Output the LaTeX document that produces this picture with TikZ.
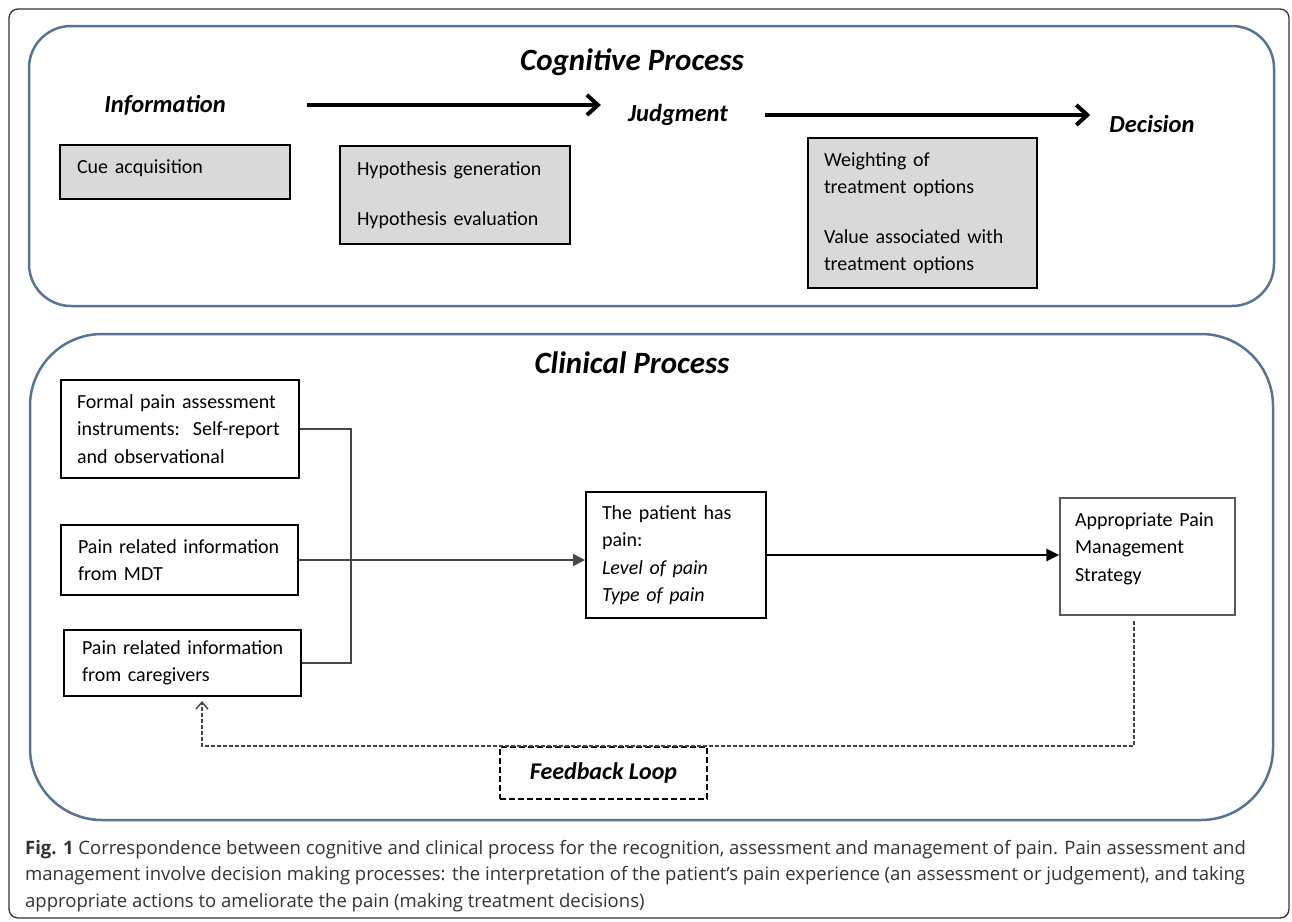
\documentclass[tikz,border=0pt]{standalone}
\usepackage{fontspec}
\setmainfont{Carlito}
\newfontfamily\capfont{Open Sans}
\usetikzlibrary{arrows.meta,calc}
\definecolor{panel}{RGB}{88,116,145}
\definecolor{boxgray}{RGB}{217,217,217}
\definecolor{captext}{RGB}{51,51,51}
\definecolor{linegray}{RGB}{70,70,70}
\begin{document}
\begin{tikzpicture}[x=1pt,y=-1pt,
  panelbox/.style={draw=panel, line width=2.5pt},
  heading/.style={font=\fontsize{31}{34}\selectfont\bfseries\itshape, inner sep=0pt},
  stage/.style={font=\fontsize{24.5}{28}\selectfont\bfseries\itshape, inner sep=0pt},
  basebox/.style={line width=2pt, align=left, inner ysep=0pt,
     font=\fontsize{20}{27.5}\selectfont, text=black},
  graybox/.style={basebox, draw=black, fill=boxgray},
  whitebox/.style={basebox, draw=black, fill=white},
  thinbox/.style={basebox, draw=black!65, line width=1.3pt, fill=white},
  fbbox/.style={draw=black, line width=2.3pt, dash pattern=on 6pt off 3pt,
     minimum width=207, minimum height=52, inner sep=0pt,
     font=\fontsize{24}{28}\selectfont\bfseries\itshape},
  bigarrow/.style={line width=4pt, -{Straight Barb[length=11pt,width=20pt,line width=4pt]}},
  bracket/.style={draw=linegray, line width=1.4pt},
  thinarrow/.style={draw=linegray, line width=1.6pt, -{Triangle[length=12pt,width=12pt]}},
  thickarrow/.style={draw=black, line width=2.6pt, -{Triangle[length=13pt,width=12pt]}},
  fbline/.style={draw=linegray, line width=1.4pt, dash pattern=on 4pt off 2pt,
     -{Straight Barb[length=7pt,width=12pt,line width=1.4pt]}}
]
\useasboundingbox (0,0) rectangle (1292,921);
\fill[white] (0,0) rectangle (1292,921);
% outer frame
\draw[draw=black!80, line width=1.3pt, rounded corners=9pt] (9,9) rectangle (1289,918);
% panels
\draw[panelbox, rounded corners=42pt] (29,26) rectangle (1274,306);
\draw[panelbox, rounded corners=72pt] (30,334) rectangle (1273,820);

% ---------- cognitive process ----------
\node[heading] (cog) at (632,62) {Cognitive Process};
\node[stage] (info) at (165,105) {Information};
\node[stage] (judg) at (678,115) {Judgment};
\node[stage] (deci) at (1152,124) {Decision};
\draw[bigarrow, shorten <=81pt, shorten >=27pt] (info.east) -- (info.east -| judg.west);
\draw[bigarrow, shorten <=37pt, shorten >=19pt] (judg.east) -- (judg.east -| deci.west);

\node[graybox, minimum width=230, minimum height=54, text width=196, inner xsep=17pt]
  (cue) at (175,172) {\mbox{Cue acquisition}\\[-16pt]\mbox{}};
\node[graybox, minimum width=230, minimum height=98, text width=196, inner xsep=17pt]
  (hyp) at (455,195) {\mbox{Hypothesis generation}\\[22.5pt]\mbox{Hypothesis evaluation}};
\node[graybox, minimum width=229, minimum height=150, text width=197, inner xsep=16pt]
  (wei) at (922.5,213) {\mbox{Weighting of}\\\mbox{treatment options}\\[22pt]\mbox{Value associated with}\\\mbox{treatment options}};

% ---------- clinical process ----------
\node[heading] (clin) at (632,363) {Clinical Process};
\node[whitebox, minimum width=238, minimum height=98, text width=206, inner xsep=16pt]
  (f1) at (180,429) {\mbox{Formal pain assessment}\\\mbox{instruments:\hspace{13pt}Self-report}\\\mbox{and observational}};
\node[whitebox, minimum width=237, minimum height=70, text width=203, inner xsep=17pt]
  (f2) at (179.5,560) {\mbox{Pain related information}\\\mbox{from MDT}};
\node[whitebox, minimum width=237, minimum height=66, text width=201, inner xsep=18pt]
  (f3) at (182.5,663) {\mbox{Pain related information}\\\mbox{from caregivers}};
\node[whitebox, minimum width=180, minimum height=126, text width=148, inner xsep=16pt]
  (mid) at (676,555) {\mbox{The patient has}\\\mbox{pain:}\\\mbox{\itshape Level of pain}\\\mbox{\itshape Type of pain}};
\node[thinbox, minimum width=175, minimum height=117, text width=145, inner xsep=15pt]
  (app) at (1147.5,556.5) {\mbox{Appropriate Pain}\\\mbox{Management}\\\mbox{Strategy}\\[-8pt]\mbox{}};

\coordinate (bx) at (351,0);
\draw[bracket] (f1.east) -| (bx |- f3.east) -- (f3.east);
\draw[thinarrow] (f2.east) -- (f2.east -| mid.west);
\draw[thickarrow] (mid.east) -- (mid.east -| app.west);

\node[fbbox] (fb) at (603.5,773) {Feedback Loop};
\coordinate (fbx) at (1134,0);
\coordinate (fbl) at (202,0);
\draw[fbline, shorten <=5pt, shorten >=4pt] (app.south -| fbx) -- (fbx |- fb.north) -- (fbl |- fb.north) -- (f3.south -| fbl);

% ---------- caption ----------
\node[anchor=north west, align=left, inner sep=0pt, text=captext,
  font=\capfont\fontsize{18.5}{26.5}\selectfont] (cap) at (25,840)
 {\textbf{Fig. 1} Correspondence between cognitive and clinical process for the recognition, assessment and management of pain. Pain assessment and\\
  management involve decision making processes: the interpretation of the patient’s pain experience (an assessment or judgement), and taking\\
  appropriate actions to ameliorate the pain (making treatment decisions)};
\end{tikzpicture}
\end{document}
